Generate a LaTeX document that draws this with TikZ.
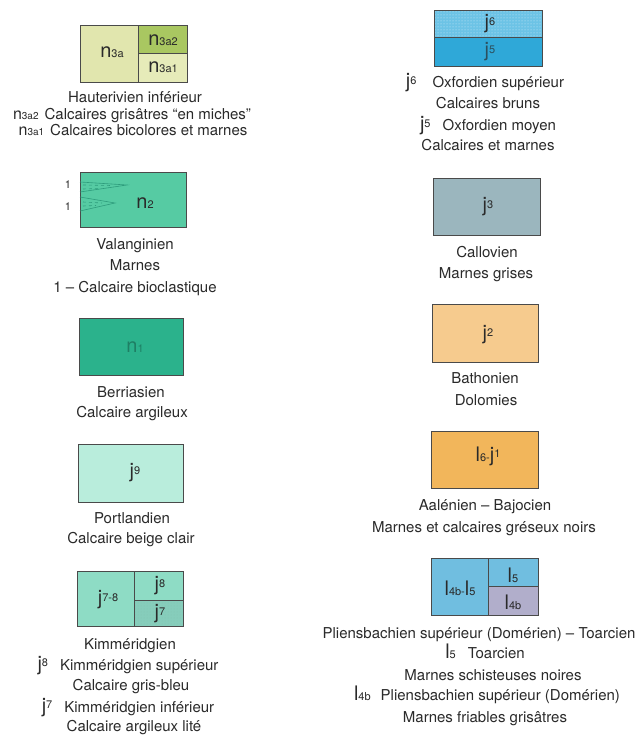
\documentclass[tikz,border=0pt]{standalone}
\usepackage{fontspec}
\setmainfont{TeX Gyre Heros}
\usetikzlibrary{patterns}

\definecolor{ink}{HTML}{2A2A2A}
\definecolor{frame}{HTML}{4A4A4A}
\definecolor{hautpale}{HTML}{E1E6AE}
\definecolor{hautgreen}{HTML}{A9C761}
\definecolor{hautlow}{HTML}{E6EBB9}
\definecolor{valang}{HTML}{56CBA3}
\definecolor{valdark}{HTML}{2E9C7C}
\definecolor{berri}{HTML}{2BB28C}
\definecolor{berrink}{HTML}{1E7F64}
\definecolor{portl}{HTML}{B9EDDC}
\definecolor{kimm}{HTML}{8EDCC5}
\definecolor{kimmlow}{HTML}{86CDBB}
\definecolor{oxfsup}{HTML}{6CC3E6}
\definecolor{oxfmoy}{HTML}{2FA8D8}
\definecolor{callov}{HTML}{9BB6BE}
\definecolor{bathon}{HTML}{F6CB8E}
\definecolor{aalen}{HTML}{F2B65B}
\definecolor{toarc}{HTML}{70BEE0}
\definecolor{domer}{HTML}{B1AECB}

\newcommand{\gsym}[2]{{\fontsize{20}{20}\selectfont #1}{\fontsize{11}{11}\selectfont #2}}
\newcommand{\gsymsm}[2]{{\fontsize{16}{16}\selectfont #1}{\fontsize{10}{10}\selectfont #2}}
\newcommand{\gsymj}[2]{{\fontsize{20}{20}\selectfont #1}\raisebox{3.5pt}{\fontsize{11}{11}\selectfont #2}}

\tikzset{
  legend/.style={font=\fontsize{15}{17}\selectfont, text=ink, anchor=base, inner sep=0pt},
  boxlabel/.style={text=ink, inner sep=0pt},
  layer/.style={draw=frame, line width=0.7pt},
  wedge/.style={draw=valdark, line width=0.6pt}
}

\begin{document}
\begin{tikzpicture}[x=1pt,y=-1pt]
\useasboundingbox (0,0) rectangle (641,735);
\fill[white] (0,0) rectangle (641,735);

% Hauterivien
\filldraw[layer, fill=hautpale] (80,25) rectangle (138,82);
\filldraw[layer, fill=hautgreen] (138,25) rectangle (187,53);
\filldraw[layer, fill=hautlow] (138,53) rectangle (187,82);
\node[boxlabel] (n3a) at (112,52) {\gsym{n}{3a}};
\node[boxlabel] (n3a2) at (163,40) {\gsym{n}{3a2}};
\node[boxlabel] (n3a1) at (163,67) {\gsym{n}{3a1}};
\node[legend] (haut1) at (135,103) {Hauterivien inférieur};
\node[legend] (haut2) at (132,120) {\gsymsm{n}{3a2}\hspace{6pt}Calcaires grisâtres ``en miches''};
\node[legend] (haut3) at (133,136) {\gsymsm{n}{3a1}\hspace{6pt}Calcaires bicolores et marnes};

% Valanginien
\filldraw[layer, fill=valang] (80,172) rectangle (186,227);
\draw[wedge] (80,182) -- (127,185) -- (80,192);
\draw[wedge, dashed] (83,185) -- (112,185.5);
\draw[wedge, dashed] (83,189) -- (100,188.5);
\draw[wedge] (80,197) -- (115,203) -- (80,211);
\draw[wedge, dashed] (83,202) -- (102,203);
\draw[wedge, dashed] (83,206) -- (96,205.5);
\node[boxlabel] (n2) at (145,203) {\gsym{n}{2}};
\node[legend, font=\fontsize{11}{11}\selectfont] (one1) at (68,189) {1};
\node[legend, font=\fontsize{11}{11}\selectfont] (one2) at (68,211) {1};
\node[legend] (val1) at (135,249) {Valanginien};
\node[legend] (val2) at (135,270) {Marnes};
\node[legend] (val3) at (135,292) {1 -- Calcaire bioclastique};

% Berriasien
\filldraw[layer, fill=berri] (79,318) rectangle (183,375);
\node[boxlabel, text=berrink] (n1) at (135,347) {\gsym{n}{1}};
\node[legend] (ber1) at (131,397) {Berriasien};
\node[legend] (ber2) at (132,417) {Calcaire argileux};

% Portlandien
\filldraw[layer, fill=portl] (78,444) rectangle (183,502);
\node[boxlabel] (j9) at (135,473) {\gsymj{j}{9}};
\node[legend] (por1) at (132,523) {Portlandien};
\node[legend] (por2) at (131,543) {Calcaire beige clair};

% Kimmeridgien
\filldraw[layer, fill=kimm] (77,571) rectangle (183,626);
\fill[kimmlow] (134,600) rectangle (183,626);
\fill[pattern=dots, pattern color=valdark!60] (134,600) rectangle (183,626);
\draw[layer] (134,571) -- (134,626);
\draw[layer] (134,600) -- (183,600);
\draw[layer] (77,571) rectangle (183,626);
\node[boxlabel] (j78) at (108,600) {\gsymj{j}{7-8}};
\node[boxlabel] (j8) at (160,586) {\gsymj{j}{8}};
\node[boxlabel] (j7) at (160,614) {\gsymj{j}{7}};
\node[legend] (kim1) at (130,649) {Kimméridgien};
\node[legend] (kim2) at (128,670) {\gsymj{j}{8}\hspace{12pt}Kimméridgien supérieur};
\node[legend] (kim3) at (131,690) {Calcaire gris-bleu};
\node[legend] (kim4) at (128,712) {\gsymj{j}{7}\hspace{12pt}Kimméridgien inférieur};
\node[legend] (kim5) at (134,731) {Calcaire argileux lité};

% Oxfordien
\filldraw[layer, fill=oxfsup] (434,10) rectangle (542,37);
\fill[pattern=dots, pattern color=white!70!oxfsup] (434,10) rectangle (542,37);
\filldraw[layer, fill=oxfmoy] (434,37) rectangle (542,66);
\draw[layer] (434,10) rectangle (542,66);
\node[boxlabel] (j6) at (490,24) {\gsymj{j}{6}};
\node[boxlabel, text=ink!70!oxfmoy] (j5) at (490,52) {\gsymj{j}{5}};
\node[legend] (oxf1) at (485,88) {\gsymj{j}{6}\hspace{16pt}Oxfordien supérieur};
\node[legend] (oxf2) at (488,109) {Calcaires bruns};
\node[legend] (oxf3) at (488,131) {\gsymj{j}{5}\hspace{12pt}Oxfordien moyen};
\node[legend] (oxf4) at (488,151) {Calcaires et marnes};

% Callovien
\filldraw[layer, fill=callov] (433,178) rectangle (540,235);
\node[boxlabel] (j3) at (488,207) {\gsymj{j}{3}};
\node[legend] (cal1) at (487,257) {Callovien};
\node[legend] (cal2) at (486,278) {Marnes grises};

% Bathonien
\filldraw[layer, fill=bathon] (432,304) rectangle (538,362);
\node[boxlabel] (j2) at (488,335) {\gsymj{j}{2}};
\node[legend] (bat1) at (485,383) {Bathonien};
\node[legend] (bat2) at (486,405) {Dolomies};

% Aalenien - Bajocien
\filldraw[layer, fill=aalen] (431,431) rectangle (538,488);
\node[boxlabel] (l6j1) at (488,456) {\gsym{l}{6-}\gsymj{j}{1}};
\node[legend] (aal1) at (485,510) {Aalénien -- Bajocien};
\node[legend] (aal2) at (484,532) {Marnes et calcaires gréseux noirs};

% Pliensbachien - Toarcien
\filldraw[layer, fill=toarc] (431,558) rectangle (538,615);
\filldraw[layer, fill=domer] (488,586) rectangle (538,615);
\draw[layer] (488,558) -- (488,586);
\draw[layer] (431,558) rectangle (538,615);
\node[boxlabel] (l4bl5) at (460,588) {\gsym{l}{4b-}\gsym{l}{5}};
\node[boxlabel] (l5) at (513,575) {\gsym{l}{5}};
\node[boxlabel] (l4b) at (513,602) {\gsym{l}{4b}};
\node[legend] (pli1) at (479,638) {Pliensbachien supérieur (Domérien) -- Toarcien};
\node[legend] (pli2) at (485,658) {\gsym{l}{5}\hspace{12pt}Toarcien};
\node[legend] (pli3) at (493,680) {Marnes schisteuses noires};
\node[legend] (pli4) at (487,700) {\gsym{l}{4b}\hspace{10pt}Pliensbachien supérieur (Domérien)};
\node[legend] (pli5) at (485,722) {Marnes friables grisâtres};

\end{tikzpicture}
\end{document}
